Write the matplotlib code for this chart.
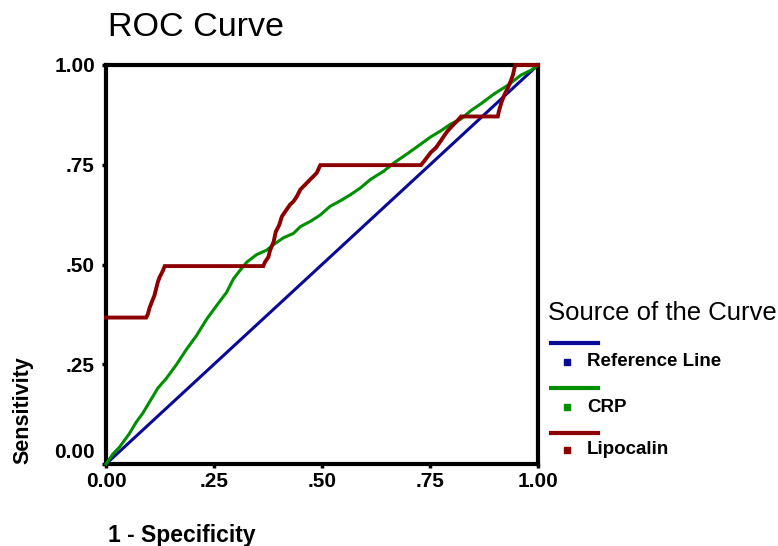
import matplotlib
matplotlib.use('Agg')
import matplotlib.pyplot as plt
from matplotlib.lines import Line2D
from matplotlib.transforms import ScaledTranslation

plt.rcParams['font.family'] = ['Liberation Sans', 'DejaVu Sans']

# ---- data ----
series_names = ['Reference Line', 'CRP', 'Lipocalin']
series_colors = ['#0a0a99', '#008f00', '#8c0000']

ref_x = [0.0, 1.0]
ref_y = [0.0, 1.0]

crp_x = [0.0, 0.016, 0.031, 0.054, 0.070, 0.085, 0.101, 0.120, 0.140, 0.163,
         0.186, 0.209, 0.233, 0.256, 0.279, 0.295, 0.310, 0.326, 0.349, 0.372,
         0.388, 0.411, 0.434, 0.450, 0.473, 0.496, 0.519, 0.543, 0.566, 0.589,
         0.612, 0.643, 0.667, 0.698, 0.729, 0.752, 0.775, 0.798, 0.822, 0.845,
         0.868, 0.899, 0.930, 0.961, 0.984, 1.0]
crp_y = [0.0, 0.025, 0.042, 0.076, 0.105, 0.127, 0.156, 0.190, 0.215, 0.249,
         0.287, 0.321, 0.363, 0.397, 0.430, 0.464, 0.485, 0.506, 0.525, 0.536,
         0.550, 0.567, 0.578, 0.595, 0.608, 0.624, 0.646, 0.660, 0.675, 0.692,
         0.713, 0.734, 0.755, 0.778, 0.802, 0.820, 0.835, 0.852, 0.865, 0.886,
         0.903, 0.928, 0.949, 0.975, 0.987, 1.0]

lip_x = [0.0, 0.093, 0.097, 0.101, 0.109, 0.112, 0.120, 0.124, 0.132, 0.136,
         0.364, 0.368, 0.376, 0.380, 0.388, 0.393, 0.401, 0.407, 0.415, 0.426,
         0.434, 0.442, 0.450, 0.461, 0.469, 0.481, 0.488, 0.496, 0.729, 0.740,
         0.752, 0.764, 0.775, 0.783, 0.791, 0.802, 0.814, 0.822, 0.907, 0.909,
         0.915, 0.922, 0.930, 0.937, 0.942, 0.947, 1.0]
lip_y = [0.367, 0.367, 0.376, 0.392, 0.414, 0.422, 0.456, 0.468, 0.485, 0.496,
         0.496, 0.506, 0.519, 0.536, 0.557, 0.582, 0.599, 0.620, 0.633, 0.650,
         0.658, 0.671, 0.688, 0.700, 0.709, 0.722, 0.730, 0.749, 0.749, 0.764,
         0.781, 0.793, 0.810, 0.823, 0.835, 0.848, 0.861, 0.871, 0.871, 0.882,
         0.905, 0.925, 0.942, 0.960, 0.975, 1.0, 1.0]

tick_values = [0.0, 0.25, 0.5, 0.75, 1.0]
tick_labels = ['0.00', '.25', '.50', '.75', '1.00']

# ---- figure ----
W, H = 778, 546
fig = plt.figure(figsize=(W / 100, H / 100), dpi=100)
ax = fig.add_axes([106 / W, 1 - 464 / H, 432 / W, 399 / H])

xs = [ref_x, crp_x, lip_x]
ys = [ref_y, crp_y, lip_y]
lws = [2.2, 2.2, 2.8]
for x, y, c, lw, name in zip(xs, ys, series_colors, lws, series_names):
    ax.plot(x, y, color=c, lw=lw, label=name, zorder=3, clip_on=False,
            solid_joinstyle='miter')

ax.set_xlim(0, 1)
ax.set_ylim(0, 1)
for s in ax.spines.values():
    s.set_linewidth(3)
    s.set_color('black')

ax.set_xticks(tick_values)
ax.set_xticklabels(tick_labels)
ax.set_yticks(tick_values)
ax.set_yticklabels(tick_labels)
ax.tick_params(axis='both', direction='out', length=3, width=2.5,
               labelsize=15, color='black')
ax.tick_params(axis='y', pad=5)
ax.tick_params(axis='x', pad=3)
for lbl in ax.get_xticklabels() + ax.get_yticklabels():
    lbl.set_fontweight('bold')

# raise the bottom y label (SPSS style)
ylbls = ax.get_yticklabels()
ylbls[0].set_transform(ylbls[0].get_transform() +
                       ScaledTranslation(0, 13 / 100, fig.dpi_scale_trans))

ax.set_xlabel('1 - Specificity', fontsize=16.5, fontweight='bold')
ax.xaxis.set_label_coords((108 - 106) / 432, (464 - 542) / 399)
ax.xaxis.label.set_ha('left')
ax.xaxis.label.set_va('baseline')

ax.set_ylabel('Sensitivity', fontsize=15.5, fontweight='bold')
ax.yaxis.set_label_coords((23 - 106) / 432, (464 - 410) / 399)
ax.yaxis.label.set_ha('center')
ax.yaxis.label.set_va('center')

fig.text(108 / W, 1 - 36 / H, 'ROC Curve', fontsize=24.5, ha='left', va='baseline')

# ---- legend (SPSS style) ----
fig.text(548 / W, 1 - 320 / H, 'Source of the Curve', fontsize=18.5,
         ha='left', va='baseline')
line_y = [343, 388, 433]
text_y = [362, 407, 450]
for name, c, ly, ty in zip(series_names, series_colors, line_y, text_y):
    fig.add_artist(Line2D([551 / W, 598 / W], [1 - ly / H, 1 - ly / H],
                          transform=fig.transFigure, color=c, lw=3))
    fig.add_artist(Line2D([567 / W], [1 - ty / H], transform=fig.transFigure,
                          color=c, marker='s', ms=4.5, ls='none'))
    fig.text(587 / W, 1 - ty / H, name, fontsize=13.5, fontweight='bold',
             ha='left', va='center')

fig.savefig('out.png', dpi=100)
